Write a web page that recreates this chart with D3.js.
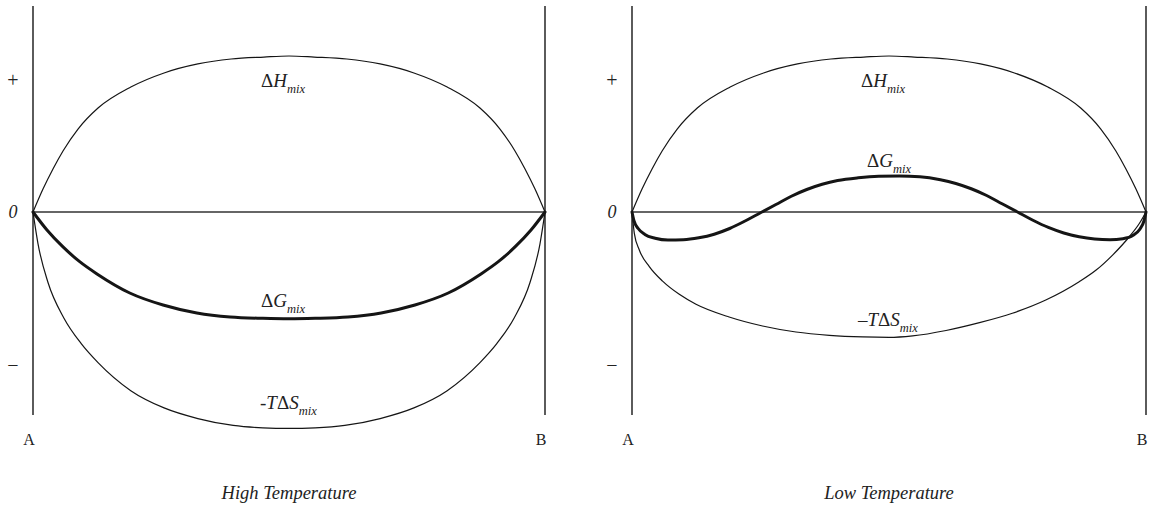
<!DOCTYPE html>
<html><head><meta charset="utf-8">
<script src="https://cdn.jsdelivr.net/npm/d3@7"></script>
<style>
html,body{margin:0;padding:0;background:#fff;}
text{font-family:"Liberation Serif","DejaVu Serif",serif;fill:#222;}
</style></head>
<body><svg id="c" width="1152" height="514"></svg>
<script>
// composition fraction (A=0, B=1) and relative energy values
const dH_t = [0, 0.0195, 0.039, 0.0586, 0.0879, 0.127, 0.191, 0.256, 0.322, 0.387, 0.451, 0.5, 0.549, 0.613, 0.678, 0.744, 0.809, 0.873, 0.9121, 0.9414, 0.961, 0.9805, 1];
const dH_v = [0, 0.153, 0.287, 0.407, 0.553, 0.693, 0.833, 0.927, 0.987, 1.02, 1.033, 1.04, 1.033, 1.02, 0.987, 0.927, 0.833, 0.693, 0.553, 0.407, 0.287, 0.153, 0];

const highG_t = [0, 0.0273, 0.0586, 0.0918, 0.125, 0.189, 0.254, 0.32, 0.385, 0.449, 0.5, 0.551, 0.615, 0.68, 0.746, 0.811, 0.875, 0.9082, 0.9414, 0.9727, 1];
const highG_v = [0, -0.12, -0.233, -0.333, -0.413, -0.54, -0.62, -0.673, -0.70, -0.709, -0.712, -0.709, -0.70, -0.673, -0.62, -0.54, -0.413, -0.333, -0.233, -0.12, 0];

const highS_t = [0, 0.0098, 0.0293, 0.0605, 0.0938, 0.127, 0.191, 0.256, 0.322, 0.391, 0.449, 0.5, 0.551, 0.609, 0.678, 0.744, 0.809, 0.873, 0.9062, 0.9395, 0.9707, 0.9902, 1];
const highS_v = [0, -0.212, -0.47, -0.708, -0.876, -1.004, -1.191, -1.306, -1.377, -1.423, -1.439, -1.443, -1.439, -1.423, -1.377, -1.306, -1.191, -1.004, -0.876, -0.708, -0.47, -0.212, 0];

const lowG_t = [0, 0.004, 0.012, 0.025, 0.045, 0.07, 0.1, 0.13, 0.16, 0.19, 0.22, 0.25, 0.28, 0.31, 0.34, 0.37, 0.4, 0.44, 0.48, 0.52, 0.56, 0.6, 0.63, 0.66, 0.69, 0.72, 0.75, 0.78, 0.81, 0.84, 0.87, 0.9, 0.93, 0.955, 0.975, 0.988, 0.996, 1];
const lowG_v = [0, -0.06, -0.11, -0.15, -0.175, -0.187, -0.185, -0.172, -0.148, -0.11, -0.06, -0.005, 0.05, 0.105, 0.15, 0.185, 0.21, 0.228, 0.238, 0.24, 0.235, 0.215, 0.19, 0.155, 0.11, 0.055, 0, -0.055, -0.103, -0.14, -0.165, -0.18, -0.185, -0.178, -0.155, -0.115, -0.06, 0];

const lowS_t = [0, 0.0045, 0.0142, 0.0337, 0.0595, 0.092, 0.1245, 0.189, 0.254, 0.319, 0.384, 0.449, 0.5, 0.546, 0.611, 0.676, 0.74, 0.805, 0.87, 0.903, 0.935, 0.9675, 0.987, 1];
const lowS_v = [0, -0.142, -0.253, -0.364, -0.461, -0.549, -0.615, -0.70, -0.76, -0.80, -0.822, -0.833, -0.836, -0.826, -0.79, -0.738, -0.675, -0.587, -0.465, -0.387, -0.287, -0.165, -0.077, 0];

const tickVals = [0.88, 0, -1.02];
const tickLabels = ["+", "0", "\u2212"];
const endLabels = ["A", "B"];
const titles = ["High Temperature", "Low Temperature"];

const panels = [
  {x0: 33, x1: 545, title: titles[0], curves: [
    {t: dH_t, v: dH_v, w: 1.2},
    {t: highS_t, v: highS_v, w: 1.2},
    {t: highG_t, v: highG_v, w: 3}],
   labels: [
    {dx: 228, y: 87, parts: [["\u0394","normal"],["H","italic"]]},
    {dx: 228, y: 307, parts: [["\u0394","normal"],["G","italic"]]},
    {dx: 227, y: 409, parts: [["-","normal"],["T","italic"],["\u0394","normal"],["S","italic"]]}
   ]},
  {x0: 632, x1: 1146, title: titles[1], curves: [
    {t: dH_t, v: dH_v, w: 1.2},
    {t: lowS_t, v: lowS_v, w: 1.2},
    {t: lowG_t, v: lowG_v, w: 3}],
   labels: [
    {dx: 229, y: 87, parts: [["\u0394","normal"],["H","italic"]]},
    {dx: 235, y: 167, parts: [["\u0394","normal"],["G","italic"]]},
    {dx: 226, y: 326, parts: [["\u2013","normal"],["T","italic"],["\u0394","normal"],["S","italic"]]}
   ]}
];

const svg = d3.select("#c");
const y = d3.scaleLinear().domain([-1, 1]).range([362, 62]);

panels.forEach(p => {
  const x = d3.scaleLinear().domain([0, 1]).range([p.x0, p.x1]);
  const g = svg.append("g");
  [0, 1].forEach(d => {
    g.append("line").attr("x1", x(d)).attr("x2", x(d)).attr("y1", 6).attr("y2", 415)
      .attr("stroke", "#333").attr("stroke-width", 1.6);
  });
  g.append("line").attr("x1", x(0)).attr("x2", x(1)).attr("y1", y(0)).attr("y2", y(0))
    .attr("stroke", "#333").attr("stroke-width", 1.6);
  tickVals.forEach((tv, i) => {
    g.append("text").attr("x", x(0) - 20).attr("y", y(tv)).attr("dy", "0.35em")
      .attr("text-anchor", "middle").attr("font-size", i === 1 ? 18 : 20)
      .attr("fill", i === 1 ? "#222" : "#444")
      .attr("font-style", i === 1 ? "italic" : "normal").text(tickLabels[i]);
  });
  [0, 1].forEach(d => {
    g.append("text").attr("x", x(d) - 4).attr("y", 445).attr("text-anchor", "middle")
      .attr("font-size", 16).text(endLabels[d]);
  });
  const line = d3.line().x(d => x(d[0])).y(d => y(d[1])).curve(d3.curveMonotoneX);
  p.curves.forEach(c => {
    g.append("path").datum(c.t.map((t, i) => [t, c.v[i]])).attr("d", line)
      .attr("fill", "none").attr("stroke", "#151515").attr("stroke-width", c.w)
      .attr("stroke-linejoin", "round").attr("stroke-linecap", "round");
  });
  p.labels.forEach(l => {
    const t = g.append("text").attr("x", p.x0 + l.dx).attr("y", l.y).attr("font-size", 19);
    l.parts.forEach(pt => t.append("tspan").attr("font-style", pt[1]).text(pt[0]));
    t.append("tspan").attr("font-style", "italic").attr("font-size", 12.5).attr("dy", 6).text("mix");
  });
  g.append("text").attr("x", (x(0) + x(1)) / 2).attr("y", 499).attr("text-anchor", "middle")
    .attr("font-size", 18.5).attr("font-style", "italic").text(p.title);
});
</script></body></html>
